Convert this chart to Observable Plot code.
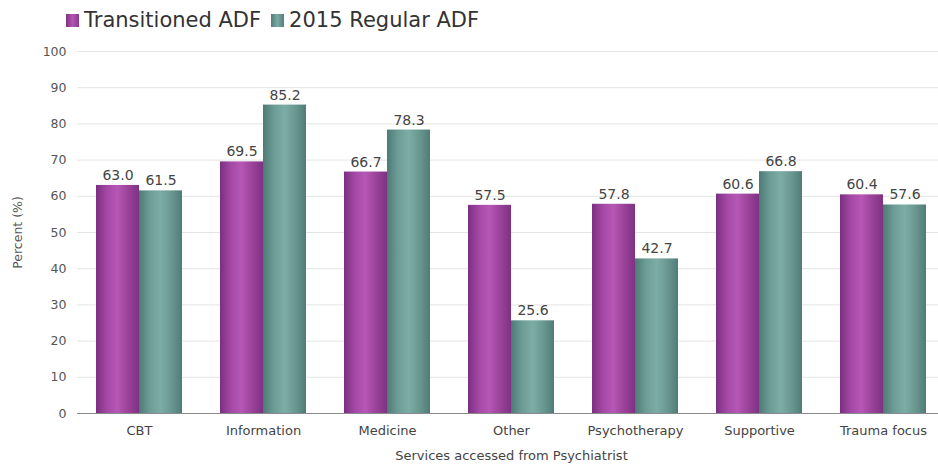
<!DOCTYPE html>
<html><head><meta charset="utf-8">
<script src="https://cdn.jsdelivr.net/npm/d3@7"></script>
<script src="https://cdn.jsdelivr.net/npm/@observablehq/plot@0.6"></script>
<style>
body{margin:0;background:#fff;font-family:"DejaVu Sans",Verdana,sans-serif;}
#legend{height:38px;display:flex;align-items:center;padding-left:66px;font-size:21px;color:#333;box-sizing:border-box;padding-top:2px}
.sw{display:inline-block;width:13px;height:13px;margin-right:5px}
.item{display:flex;align-items:center;margin-right:10px}
</style>
</head><body>
<div id="legend"></div>
<div id="chart"></div>
<script>
const categories = ["CBT","Information","Medicine","Other","Psychotherapy","Supportive","Trauma focus"];
const series = ["Transitioned ADF","2015 Regular ADF"];
const transitioned = [63.0,69.5,66.7,57.5,57.8,60.6,60.4];
const regular = [61.5,85.2,78.3,25.6,42.7,66.8,57.6];
const yTicks = [0,10,20,30,40,50,60,70,80,90,100];
const swatch = ["linear-gradient(90deg,#7d3383,#b455b4,#8a3a8a)","linear-gradient(90deg,#4f7f79,#7aaaa2,#557f7a)"];
const fills = ["url(#gp)","url(#gt)"];

const data = categories.flatMap((c,i)=>[
  {category:c, series:series[0], value:transitioned[i]},
  {category:c, series:series[1], value:regular[i]}
]);

const legend = document.getElementById("legend");
series.forEach((s,i)=>{
  const it = document.createElement("div"); it.className="item";
  it.innerHTML = `<span class="sw" style="background:${swatch[i]}"></span><span>${s}</span>`;
  legend.appendChild(it);
});

const svg = Plot.plot({
  width:938, height:431,
  marginTop:13, marginBottom:56, marginLeft:79, marginRight:0,
  style:{fontFamily:"'DejaVu Sans',Verdana,sans-serif", fontSize:"13px", color:"#555", background:"#fff"},
  fx:{domain:categories, range:[76,946], paddingInner:0, paddingOuter:0},
  x:{domain:series, paddingInner:0, paddingOuter:0.43, axis:null},
  y:{domain:[0,100]},
  color:{domain:series, range:fills},
  marks:[
    Plot.gridY(yTicks, {stroke:"#e4e4e4", strokeOpacity:1}),
    Plot.axisY(yTicks, {tickSize:0, tickPadding:11, fontSize:12.5, label:"Percent (%)", labelArrow:"none", labelAnchor:"center", labelOffset:64, fill:"#555"}),
    Plot.axisFx({anchor:"bottom", tickSize:0, tickPadding:12, fontSize:13, label:"Services accessed from Psychiatrist", labelArrow:"none", labelAnchor:"center", labelOffset:46, fill:"#444"}),
    Plot.barY(data, {fx:"category", x:"series", y:"value", fill:"series"}),
    Plot.ruleY([0], {stroke:"#8a8a8a"}),
    Plot.text(data, {fx:"category", x:"series", y:"value", text:d=>d.value.toFixed(1), dy:-10, fontSize:14, fill:"#444"})
  ]
});

const defs = d3.select(svg).insert("defs", ":first-child");
[["gp",["#7a2f80","#a448a6","#b657b5","#9a4299","#7e3282"]],["gt",["#4c7b75","#6c9c95","#7cada5","#6a9891","#4f7c77"]]].forEach(([id,stops])=>{
  const g = defs.append("linearGradient").attr("id",id).attr("x1","0%").attr("x2","100%").attr("y1","0%").attr("y2","0%");
  stops.forEach((c,k)=>g.append("stop").attr("offset",(k/(stops.length-1)*100)+"%").attr("stop-color",c));
});
document.getElementById("chart").appendChild(svg);
</script>
</body></html>
